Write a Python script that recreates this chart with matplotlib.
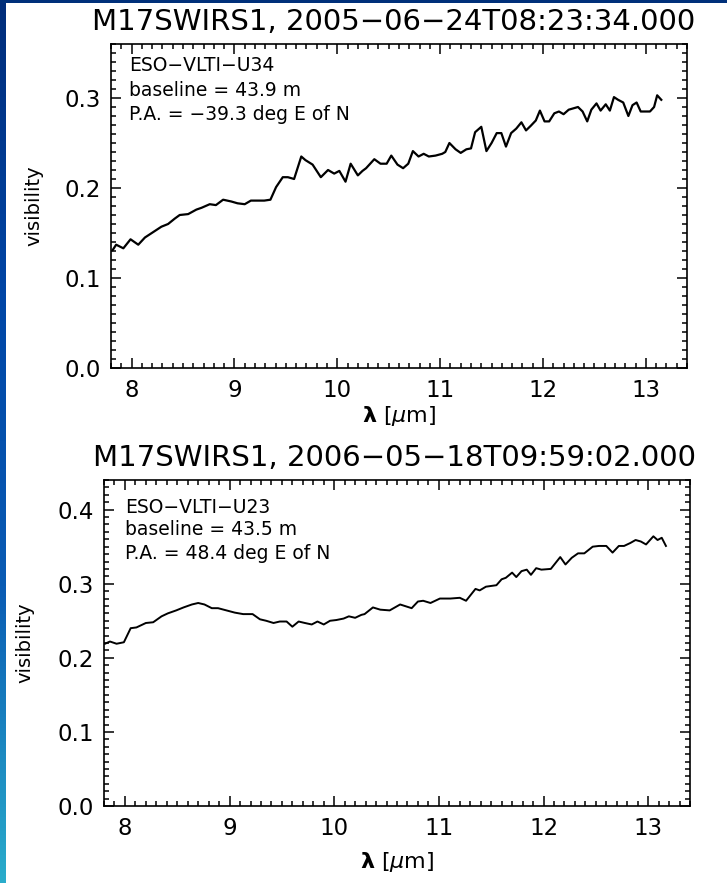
import numpy as np
import matplotlib
matplotlib.use("Agg")
import matplotlib.pyplot as plt
from matplotlib.ticker import MultipleLocator
from matplotlib.colors import LinearSegmentedColormap

# ---- data ----
# observation 1 (U34)
wl1 = [7.816, 7.85, 7.92, 7.99, 8.065, 8.13, 8.21, 8.29, 8.355, 8.42, 8.468, 8.55,
       8.63, 8.68, 8.76, 8.82, 8.89, 8.97, 9.03, 9.10, 9.16, 9.23, 9.29, 9.35,
       9.405, 9.47, 9.52, 9.58, 9.65, 9.69, 9.76, 9.84, 9.91, 9.97, 10.02, 10.08,
       10.13, 10.20, 10.245, 10.28, 10.36, 10.42, 10.48, 10.525, 10.585, 10.64,
       10.69, 10.735, 10.79, 10.84, 10.89, 10.955, 11.02, 11.05, 11.09, 11.15,
       11.20, 11.255, 11.30, 11.34, 11.40, 11.45, 11.50, 11.55, 11.595, 11.64,
       11.69, 11.74, 11.79, 11.835, 11.88, 11.93, 11.97, 12.015, 12.06, 12.11,
       12.155, 12.20, 12.25, 12.34, 12.385, 12.43, 12.47, 12.52, 12.56, 12.61,
       12.65, 12.69, 12.73, 12.78, 12.83, 12.87, 12.91, 12.95, 13.00, 13.04,
       13.08, 13.11, 13.15]
vis1 = [0.131, 0.137, 0.133, 0.143, 0.137, 0.145, 0.151, 0.157, 0.160, 0.166, 0.170, 0.171,
        0.176, 0.178, 0.182, 0.181, 0.187, 0.185, 0.183, 0.182, 0.186, 0.186, 0.186, 0.187,
        0.201, 0.212, 0.212, 0.210, 0.235, 0.231, 0.226, 0.212, 0.220, 0.216, 0.219, 0.207,
        0.227, 0.214, 0.219, 0.222, 0.232, 0.227, 0.227, 0.236, 0.226, 0.222,
        0.227, 0.241, 0.235, 0.238, 0.235, 0.236, 0.238, 0.240, 0.250, 0.243,
        0.239, 0.243, 0.244, 0.262, 0.268, 0.241, 0.250, 0.261, 0.261, 0.246,
        0.261, 0.266, 0.273, 0.264, 0.269, 0.275, 0.286, 0.274, 0.274, 0.283,
        0.285, 0.282, 0.287, 0.290, 0.285, 0.274, 0.287, 0.294, 0.286, 0.293,
        0.286, 0.301, 0.298, 0.295, 0.280, 0.292, 0.295, 0.285, 0.285, 0.285,
        0.290, 0.303, 0.298]

# observation 2 (U23)
wl2 = [7.81, 7.857, 7.92, 7.99, 8.055, 8.11, 8.20, 8.27, 8.35, 8.41, 8.49, 8.56,
       8.64, 8.70, 8.76, 8.83, 8.89, 8.97, 9.05, 9.13, 9.22, 9.29, 9.35, 9.42,
       9.48, 9.545, 9.60, 9.66, 9.72, 9.785, 9.84, 9.90, 9.96, 10.02, 10.09,
       10.14, 10.20, 10.26, 10.29, 10.37, 10.44, 10.53, 10.63, 10.74, 10.80,
       10.85, 10.92, 11.01, 11.11, 11.20, 11.26, 11.35, 11.39, 11.45, 11.55,
       11.60, 11.64, 11.70, 11.74, 11.79, 11.84, 11.88, 11.93, 11.98, 12.07,
       12.16, 12.21, 12.27, 12.33, 12.39, 12.47, 12.53, 12.60, 12.66, 12.72,
       12.77, 12.83, 12.88, 12.93, 12.98, 13.05, 13.09, 13.13, 13.17]
vis2 = [0.219, 0.222, 0.219, 0.221, 0.240, 0.241, 0.247, 0.248, 0.256, 0.260, 0.264, 0.268,
        0.272, 0.274, 0.272, 0.267, 0.267, 0.264, 0.261, 0.259, 0.259, 0.252, 0.250, 0.247,
        0.249, 0.249, 0.242, 0.249, 0.247, 0.245, 0.249, 0.245, 0.250, 0.251, 0.253,
        0.256, 0.254, 0.258, 0.259, 0.268, 0.265, 0.264, 0.272, 0.267, 0.276,
        0.277, 0.274, 0.280, 0.280, 0.281, 0.277, 0.293, 0.291, 0.296, 0.298,
        0.306, 0.308, 0.315, 0.309, 0.317, 0.319, 0.312, 0.321, 0.319, 0.320,
        0.336, 0.326, 0.335, 0.341, 0.341, 0.350, 0.351, 0.351, 0.342, 0.351,
        0.351, 0.355, 0.359, 0.357, 0.353, 0.364, 0.359, 0.362, 0.351]

titles = ["M17SWIRS1, 2005\u221206\u221224T08:23:34.000",
          "M17SWIRS1, 2006\u221205\u221218T09:59:02.000"]
notes = [["ESO\u2212VLTI\u2212U34", "baseline = 43.9 m", "P.A. = \u221239.3 deg E of N"],
         ["ESO\u2212VLTI\u2212U23", "baseline = 43.5 m", "P.A. = 48.4 deg E of N"]]
ymax = [0.36, 0.44]

plt.rcParams['font.family'] = ['DejaVu Sans']
plt.rcParams['axes.unicode_minus'] = True

fig = plt.figure(figsize=(7.27, 8.83), dpi=100)
fig.patch.set_facecolor('white')

# slide background: blue strip on the left, dark band on top
grad = LinearSegmentedColormap.from_list('slide', ['#002d7a', '#0046a6', '#0a5cb4', '#2aaccb'])
strip = fig.add_axes([0, 0, 6 / 727, 1])
strip.imshow(np.linspace(0, 1, 256).reshape(-1, 1), aspect='auto', cmap=grad)
strip.axis('off')
band = fig.add_axes([0, 1 - 3 / 883, 1, 3 / 883])
band.set_facecolor('#00307a')
band.set_xticks([])
band.set_yticks([])
for s in band.spines.values():
    s.set_visible(False)

boxes = [[111 / 727, 1 - 368 / 883, 576 / 727, 324 / 883],
         [104 / 727, 1 - 806 / 883, 586 / 727, 326 / 883]]
title_y = [1 - 22 / 883, 1 - 458 / 883]
note_x = [0.031, 0.036]
note_y = [[0.935, 0.858, 0.781], [0.917, 0.847, 0.776]]
xlab_y = [-0.148, -0.172]
lw = [1.6, 1.4]

for i, (wl, vis) in enumerate([(wl1, vis1), (wl2, vis2)]):
    ax = fig.add_axes(boxes[i])
    ax.plot(wl, vis, color='black', lw=lw[i], solid_joinstyle='round')
    ax.set_xlim(7.8, 13.4)
    ax.set_ylim(0, ymax[i])
    ax.xaxis.set_major_locator(MultipleLocator(1))
    ax.xaxis.set_minor_locator(MultipleLocator(0.1))
    ax.yaxis.set_major_locator(MultipleLocator(0.1))
    ax.yaxis.set_minor_locator(MultipleLocator(0.01))
    ax.yaxis.set_major_formatter(matplotlib.ticker.FormatStrFormatter('%.1f'))
    ax.tick_params(which='both', direction='in', top=True, right=True,
                   width=1.1, labelsize=16.5, color='black')
    ax.tick_params(which='major', length=7.5)
    ax.tick_params(which='minor', length=3.6)
    ax.tick_params(axis='y', pad=7)
    ax.tick_params(axis='x', pad=8)
    for s in ax.spines.values():
        s.set_linewidth(1.2)
    ax.set_ylabel('visibility', fontsize=14)
    ax.yaxis.set_label_coords(-0.118, 0.5)
    ax.set_xlabel(r'$\mathbf{\lambda}$ [$\mu$m]', fontsize=16, va='center')
    ax.xaxis.set_label_coords(0.5, xlab_y[i])
    for t, y in zip(notes[i], note_y[i]):
        ax.text(note_x[i], y, t, transform=ax.transAxes, fontsize=13.5,
                va='center', ha='left')
    fig.text(0.542, title_y[i], titles[i], fontsize=21, ha='center', va='center')

fig.savefig('out.png', dpi=100)
